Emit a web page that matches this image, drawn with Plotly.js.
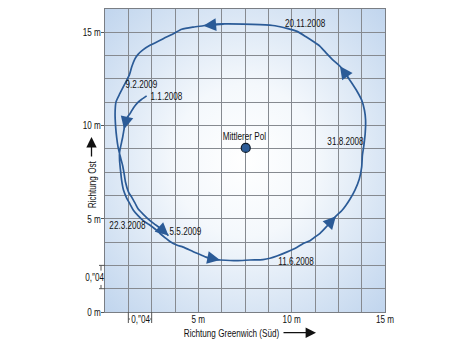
<!DOCTYPE html>
<html>
<head>
<meta charset="utf-8">
<script src="https://cdn.plot.ly/plotly-3.0.1.min.js"></script>
<style>
html,body{margin:0;padding:0;background:#fff;}
#chart{width:458px;height:344px;}
</style>
</head>
<body>
<div id="chart"></div>
<script>
// Polbahn path (metres), from 1.1.2008 to 5.5.2009
const pathX = [2.23,1.97,1.74,1.53,1.34,1.16,1.07,1.02,0.95,0.89,0.78,0.78,0.83,0.89,0.99,1.16,1.34,1.52,1.77,2.05,
  2.36,2.68,2.95,3.21,3.48,3.84,4.19,4.73,5.09,5.45,5.79,6.16,7.06,7.77,8.46,8.84,9.21,9.73,10.27,10.62,
  10.98,11.25,11.52,11.84,12.14,12.37,12.68,12.91,13.12,13.39,13.62,13.75,13.79,13.87,13.94,13.96,13.90,13.75,13.50,13.12,
  12.86,12.59,12.23,11.88,11.52,11.14,10.77,10.29,9.75,9.11,8.30,7.41,6.43,5.80,5.27,4.73,4.11,3.66,3.12,2.41,
  2.05,1.77,1.61,1.43,1.30,1.07,0.80,0.59,0.54,0.57,0.63,0.70,0.80,0.94,1.02,1.10,1.26,1.43,1.61,1.78,
  2.04,2.32,2.62,2.95,3.16,3.40];
const pathY = [11.59,11.41,11.22,10.96,10.64,10.38,10.11,9.80,9.39,9.11,8.57,8.14,7.61,7.07,6.54,6.11,5.79,5.46,5.17,4.90,
  4.69,4.45,4.21,3.99,3.78,3.59,3.48,3.23,3.08,2.93,2.82,2.79,2.75,2.79,2.81,2.88,3.00,3.21,3.46,3.67,
  3.82,4.02,4.22,4.55,4.89,5.14,5.43,5.73,6.05,6.54,7.12,7.77,8.41,8.95,9.59,10.29,10.82,11.36,11.84,12.43,
  12.83,13.18,13.50,13.86,14.25,14.52,14.76,15.05,15.21,15.35,15.41,15.44,15.45,15.43,15.35,15.28,15.16,14.92,14.66,14.30,
  14.07,13.82,13.59,13.14,12.70,12.25,11.72,11.27,10.64,9.93,9.32,8.84,8.41,7.87,7.45,6.96,6.43,6.16,5.84,5.52,
  5.25,4.98,4.74,4.50,4.31,4.10];
// Arrow heads: index of tip point and of a point behind it on the path
const arrowTip  = [7, 31, 45, 61, 74, 105];
const arrowTail = [5, 29, 43, 59, 72, 103];
// Mean pole
const poleX = [7.54];
const poleY = [8.80];
const poleLabel = 'Mittlerer Pol';
// Date labels
const dateLabels = ['1.1.2008','9.2.2009','20.11.2008','31.8.2008','11.6.2008','22.3.2008','5.5.2009'];
// Axis ticks
const xTickVals = [5, 10, 15];
const xTickText = ['5 m', '10 m', '15 m'];
const yTickVals = [0, 5, 10, 15];
const yTickText = ['0 m', '5 m', '10 m', '15 m'];
const arcLabel = '0,\u203304';

const FONT = 'Liberation Sans, Arial, sans-serif';
const FS = 11;
const NARROW = 0.74;
const BLUE = '#2b5b97';
const GRID = '#868a90';
const TXT = '#111111';

const L = 105, T = 9, W = 280, H = 303;
const px = v => (v - L) / W;            // pixel x -> paper
const py = v => (T + H - v) / H;        // pixel y -> paper

const svg = "<svg xmlns='http://www.w3.org/2000/svg' width='280' height='303' viewBox='0 0 280 303' preserveAspectRatio='none'>" +
  "<defs><radialGradient id='g' cx='0.5' cy='0.5' r='0.72'>" +
  "<stop offset='0' stop-color='#ffffff'/><stop offset='0.35' stop-color='#f4f8fc'/>" +
  "<stop offset='1' stop-color='#bfd4ed'/></radialGradient></defs>" +
  "<rect width='280' height='303' fill='url(#g)'/></svg>";

const traces = [
  {x: pathX, y: pathY, type: 'scatter', mode: 'lines',
   line: {color: BLUE, width: 1.7, shape: 'spline', smoothing: 0.6}, hoverinfo: 'skip'},
  {x: poleX, y: poleY, type: 'scatter', mode: 'markers',
   marker: {size: 9, color: BLUE, line: {color: '#0d1a2a', width: 1.2}}, hoverinfo: 'skip'}
];

const ann = [];
arrowTip.forEach((t, i) => {
  const s = arrowTail[i];
  ann.push({x: pathX[t], y: pathY[t], ax: pathX[s], ay: pathY[s], xref: 'x', yref: 'y',
    axref: 'x', ayref: 'y', text: '', showarrow: true, arrowhead: 2, arrowsize: 1.5,
    arrowwidth: 1.7, arrowcolor: BLUE});
});
const lf = {family: FONT, size: FS, color: TXT};
const lab = (x, y, text) => ({x: x, y: y, text: text, xanchor: 'center', yanchor: 'middle', showarrow: false, font: lf});
// date labels
ann.push(lab(3.27, 11.57, dateLabels[0]));
ann.push(lab(1.93, 12.21, dateLabels[1]));
ann.push(lab(10.71, 15.48, dateLabels[2]));
ann.push(lab(12.86, 9.16, dateLabels[3]));
ann.push(lab(10.23, 2.73, dateLabels[4]));
ann.push(lab(1.21, 4.66, dateLabels[5]));
ann.push(lab(4.29, 4.34, dateLabels[6]));
ann.push(lab(poleX[0] - 0.09, poleY[0] + 0.66, poleLabel));
// axis titles
ann.push({xref: 'paper', yref: 'paper', x: px(231.5), y: py(332.7), text: 'Richtung Greenwich (Süd)',
  xanchor: 'center', yanchor: 'middle', showarrow: false, font: lf});
ann.push({xref: 'paper', yref: 'paper', x: px(316), y: py(332.7), ax: -34, ay: 0, text: '', showarrow: true,
  arrowhead: 2, arrowsize: 1.6, arrowwidth: 1.3, arrowcolor: '#111'});
ann.push({xref: 'paper', yref: 'paper', x: px(91), y: py(184.5), text: 'Richtung Ost', textangle: -90,
  xanchor: 'center', yanchor: 'middle', showarrow: false, font: lf});
ann.push({xref: 'paper', yref: 'paper', x: px(91.5), y: py(137), ax: 0, ay: 21, text: '', showarrow: true,
  arrowhead: 2, arrowsize: 1.6, arrowwidth: 1.3, arrowcolor: '#111'});
// arc-second brackets
ann.push({xref: 'x', yref: 'paper', x: 1.875, y: py(319), text: arcLabel, xanchor: 'center', yanchor: 'middle', showarrow: false, font: lf});
ann.push({xref: 'paper', yref: 'y', x: px(94.5), y: 1.875, text: arcLabel, xanchor: 'center', yanchor: 'middle', showarrow: false, font: lf});

const sl = {color: '#555', width: 1};
const shapes = [
  {type: 'line', xref: 'x', yref: 'paper', x0: 1.25, x1: 1.25, y0: 0, y1: py(323), line: sl},
  {type: 'line', xref: 'x', yref: 'paper', x0: 2.5, x1: 2.5, y0: 0, y1: py(323), line: sl},
  {type: 'line', xref: 'x', yref: 'paper', x0: 1.25, x1: 1.34, y0: py(319), y1: py(319), line: sl},
  {type: 'line', xref: 'x', yref: 'paper', x0: 2.41, x1: 2.5, y0: py(319), y1: py(319), line: sl},
  {type: 'line', xref: 'paper', yref: 'y', x0: px(99), x1: 0, y0: 1.25, y1: 1.25, line: sl},
  {type: 'line', xref: 'paper', yref: 'y', x0: px(99), x1: 0, y0: 2.5, y1: 2.5, line: sl},
  {type: 'line', xref: 'paper', yref: 'y', x0: px(101), x1: px(101), y0: 2.5, y1: 2.22, line: sl},
  {type: 'line', xref: 'paper', yref: 'y', x0: px(101), x1: px(101), y0: 1.25, y1: 1.45, line: sl}
];

const layout = {
  width: 458, height: 344,
  margin: {l: L, r: 458 - L - W, t: T, b: 344 - T - H, pad: 0},
  paper_bgcolor: '#ffffff',
  plot_bgcolor: 'rgba(0,0,0,0)',
  showlegend: false,
  hovermode: false,
  font: {family: FONT, size: FS, color: TXT},
  xaxis: {range: [0, 15], tickmode: 'array', tickvals: xTickVals, ticktext: xTickText,
    showgrid: true, gridcolor: GRID, gridwidth: 1, zeroline: false,
    showline: true, linecolor: '#7a7e84', linewidth: 1, mirror: true, ticks: '',
    ticklabelstandoff: -3,
    minor: {tick0: 0, dtick: 1.25, showgrid: true, gridcolor: GRID, gridwidth: 1, ticks: ''},
    tickfont: {family: FONT, size: FS, color: TXT}, fixedrange: true},
  yaxis: {range: [0, 16.25], tickmode: 'array', tickvals: yTickVals, ticktext: yTickText,
    showgrid: true, gridcolor: GRID, gridwidth: 1, zeroline: false,
    showline: true, linecolor: '#7a7e84', linewidth: 1, mirror: true,
    ticks: 'outside', ticklen: 3, tickcolor: '#555', ticklabelstandoff: -2,
    minor: {tick0: 0, dtick: 1.25, showgrid: true, gridcolor: GRID, gridwidth: 1, ticks: ''},
    tickfont: {family: FONT, size: FS, color: TXT}, fixedrange: true},
  images: [{source: 'data:image/svg+xml;charset=utf-8,' + encodeURIComponent(svg),
    xref: 'paper', yref: 'paper', x: 0, y: 1, sizex: 1, sizey: 1,
    sizing: 'stretch', xanchor: 'left', yanchor: 'top', layer: 'below'}],
  annotations: ann,
  shapes: shapes
};

// condense all text horizontally (narrow typeface look), keeping it as real text
function condense(gd) {
  gd.querySelectorAll('svg text').forEach(t => {
    const len = t.getComputedTextLength ? t.getComputedTextLength() : 0;
    if (len > 0) {
      t.setAttribute('textLength', (len * NARROW).toFixed(2));
      t.setAttribute('lengthAdjust', 'spacingAndGlyphs');
    }
  });
}

Plotly.newPlot('chart', traces, layout, {displayModeBar: false, staticPlot: true})
  .then(gd => condense(gd));
</script>
</body>
</html>
